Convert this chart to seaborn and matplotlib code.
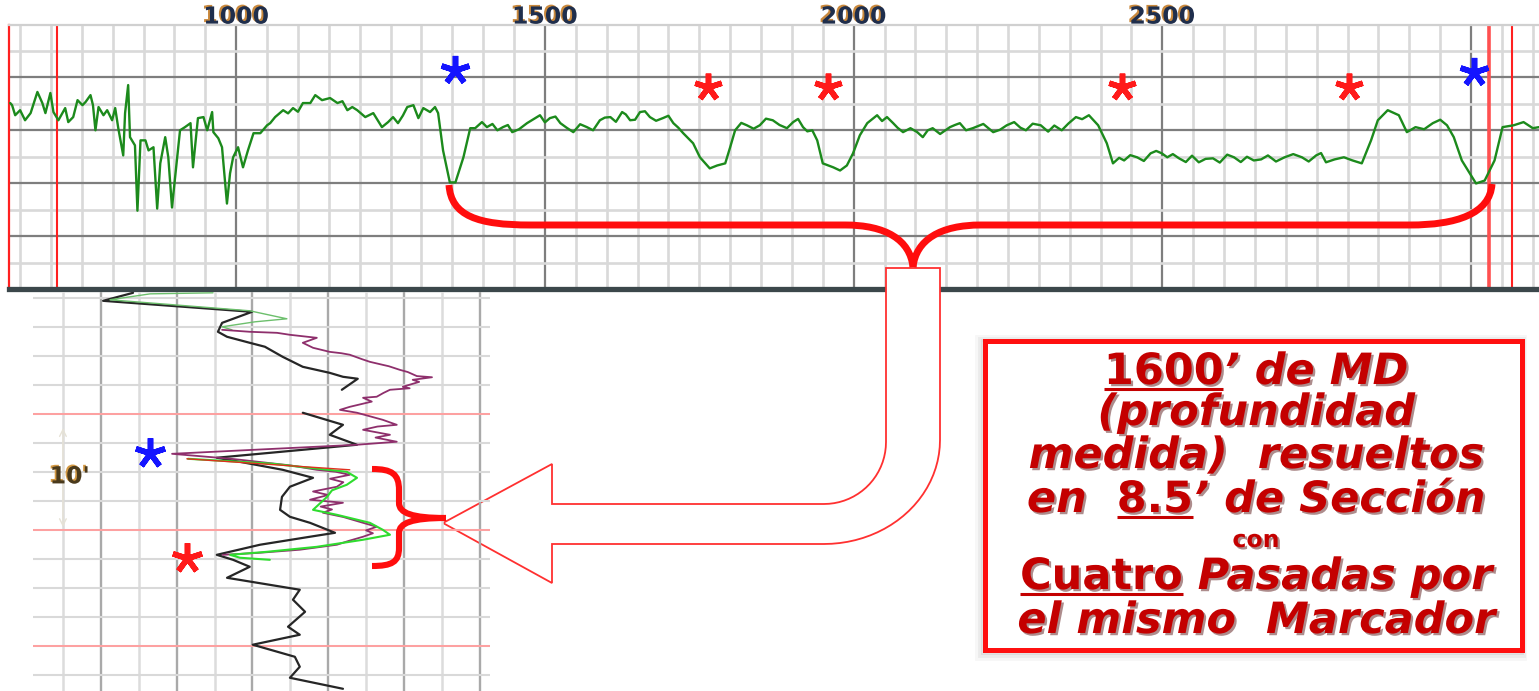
import numpy as np
import matplotlib
matplotlib.use("Agg")
import matplotlib.pyplot as plt
import matplotlib.patheffects as pe
from matplotlib.path import Path
from matplotlib.patches import PathPatch, Rectangle
import seaborn as sns

# ---------------- Gamma-ray log along the well (measured depth, ft) ----------------
GR_DEPTH = [634, 637, 642, 650, 658, 667, 678, 686, 691, 699, 704, 712, 723, 728, 736, 743,
            751, 756, 764, 768, 772, 777, 785, 791, 799, 804, 809, 817, 820, 825, 828, 836,
            840, 845, 853, 858, 866, 872, 877, 885, 890, 896, 901, 909, 917, 926, 930, 938,
            947, 953, 961, 963, 971, 977, 985, 990, 995, 1003, 1011, 1019, 1028, 1039, 1050,
            1055, 1063, 1076, 1084, 1092, 1100, 1108, 1120, 1128, 1139, 1152, 1164, 1172, 1180,
            1188, 1196, 1209, 1222, 1236, 1246, 1254, 1262, 1270, 1277, 1287, 1295, 1303, 1314,
            1322, 1327, 1335, 1346, 1355, 1368, 1379, 1387, 1398, 1406, 1415, 1423, 1432, 1440,
            1447, 1458, 1471, 1480, 1492, 1500, 1508, 1517, 1525, 1535, 1546, 1557, 1568, 1578,
            1589, 1597, 1606, 1615, 1625, 1631, 1638, 1646, 1654, 1662, 1670, 1680, 1691, 1700,
            1708, 1716, 1724, 1740, 1751, 1767, 1779, 1792, 1800, 1808, 1818, 1827, 1838, 1848,
            1858, 1869, 1880, 1892, 1902, 1910, 1918, 1925, 1933, 1941, 1950, 1967, 1978, 1989,
            1999, 2010, 2022, 2038, 2046, 2054, 2064, 2071, 2080, 2092, 2103, 2112, 2120, 2128,
            2140, 2156, 2164, 2172, 2182, 2193, 2210, 2226, 2237, 2248, 2260, 2270, 2279, 2290,
            2303, 2315, 2325, 2337, 2348, 2360, 2370, 2381, 2396, 2410, 2420, 2430, 2438, 2448,
            2459, 2470, 2481, 2490, 2499, 2508, 2517, 2527, 2538, 2548, 2559, 2570, 2582, 2593,
            2605, 2616, 2627, 2637, 2648, 2660, 2671, 2684, 2698, 2712, 2726, 2737, 2749, 2757,
            2765, 2779, 2794, 2808, 2823, 2838, 2849, 2865, 2883, 2896, 2910, 2924, 2938, 2950,
            2961, 2972, 2985, 3008, 3022, 3038, 3051, 3069, 3085, 3100, 3110]
GR_API = [70.3, 69.5, 65.7, 67.6, 63.8, 66.5, 74.5, 70.3, 66.5, 74.1, 66.9, 63.8, 68.4, 63.1, 65.0, 71.4,
          69.5, 70.7, 73.3, 69.5, 60.0, 68.8, 65.7, 67.6, 63.8, 68.4, 60.8, 50.5, 66.5, 77.1, 57.4, 54.3,
          29.6, 56.2, 56.2, 52.4, 53.6, 30.4, 47.5, 57.4, 49.8, 30.8, 42.2, 60.0, 61.2, 62.7, 46.0, 64.6,
          65.0, 60.0, 66.9, 59.3, 57.0, 53.6, 32.3, 43.7, 49.8, 53.6, 46.0, 52.4, 58.9, 58.9, 61.9,
          62.7, 65.0, 67.6, 66.4, 68.4, 67.0, 70.3, 70.3, 73.3, 71.4, 72.2, 70.3, 71.0, 67.6,
          68.8, 67.6, 65.0, 66.5, 61.2, 63.1, 65.0, 62.7, 65.6, 68.8, 69.5, 64.6, 68.4, 66.9,
          68.8, 66.5, 52.4, 40.3, 40.3, 49.8, 60.8, 60.8, 63.1, 61.2, 62.4, 60.0, 61.2, 62.0,
          59.3, 60.4, 62.7, 64.0, 65.7, 63.0, 64.6, 65.2, 62.7, 61.0, 59.3, 62.3, 61.2, 60.0,
          63.8, 64.8, 65.0, 63.2, 66.9, 66.0, 63.8, 64.0, 66.9, 67.2, 65.0, 63.6, 64.6, 65.5,
          62.7, 61.0, 58.9, 55.1, 49.8, 45.6, 46.7, 47.5, 53.6, 60.0, 62.8, 61.9, 60.6, 61.9,
          64.4, 63.8, 62.0, 60.8, 63.1, 64.3, 61.2, 59.6, 60.0, 56.2, 47.5, 46.0, 44.8, 46.7,
          51.3, 58.1, 62.7, 65.7, 63.5, 65.0, 62.7, 61.0, 59.3, 60.8, 59.3, 57.4, 60.0, 60.8,
          58.6, 61.2, 62.0, 62.7, 60.0, 60.8, 62.4, 59.3, 60.2, 61.9, 63.1, 61.0, 60.0, 62.5,
          61.9, 59.5, 61.8, 60.0, 62.6, 65.0, 64.2, 65.7, 61.9, 55.1, 47.5, 49.6, 48.6, 50.6,
          49.8, 48.4, 51.3, 52.2, 51.3, 49.8, 51.0, 49.4, 48.0, 50.4, 47.9, 49.2, 49.4, 47.8,
          50.8, 49.8, 48.0, 50.0, 48.6, 49.0, 50.5, 48.2, 49.8, 51.0, 49.8, 48.2, 50.5, 51.4,
          47.9, 49.0, 49.8, 48.6, 47.5, 56.2, 63.8, 67.6, 65.7, 59.3, 61.2, 60.4, 62.7, 64.0,
          61.9, 57.4, 48.6, 39.9, 41.0, 48.6, 61.2, 61.9, 63.1, 60.8, 61.2]

# marker passes picked on the log
BLUE_STAR_DEPTH = [1355, 3005]
BLUE_STAR_API = [82.8, 82.1]
RED_STAR_DEPTH = [1764, 1958, 2435, 2802]
RED_STAR_API = [76.4, 76.4, 76.4, 76.4]

DEPTH_TICKS = [1000, 1500, 2000, 2500, 3000]
DEPTH_LABELS = ["1000", "1500", "2000", "2500", ""]
RED_MARKS_MD = [710, 3029, 3066]

# ---------------- Stratigraphic section (relative TVD, ft) ----------------
REF_A_VAL = [18.5, 10.6, 49.9, 42.0, 40.9, 43.3, 49.3, 53.3, 58.0, 63.3, 70.4, 73.9, 77.8, 73.6]
REF_A_TVD = [-0.43, 0.26, 1.21, 2.16, 2.93, 3.36, 3.88, 4.22, 5.09, 5.95, 6.47, 6.81, 6.98, 7.93]
REF_B_VAL = [63.3, 73.9, 70.4, 77.6, 40.6, 46.7, 58.0, 66.0, 59.9, 57.8, 57.3, 59.9, 65.2, 71.8,
             65.2, 52.0, 40.6, 44.9, 49.3, 43.3, 62.5, 60.7, 63.9, 59.4, 62.5, 50.1, 61.2, 62.5,
             59.9, 73.9]
REF_B_TVD = [9.91, 10.95, 11.81, 12.67, 13.79, 14.14, 14.83, 15.52, 16.29, 17.16, 18.28, 18.88,
             19.40, 20.26, 20.60, 21.29, 22.16, 22.59, 23.19, 24.14, 25.17, 26.03, 27.07, 28.36,
             29.05, 29.91, 30.95, 31.81, 32.76, 33.71]

PASS1_VAL = [39.6, 23.0, 12.4, 49.3, 59.1, 50.7, 42.0, 44.6]
PASS1_TVD = [-0.43, -0.34, 0.17, 1.12, 1.81, 2.07, 2.50, 2.76]

PASS2_VAL = [42.0, 49.3, 56.5, 59.9, 67.0, 63.3, 66.0, 70.4, 73.5, 75.7, 79.0, 81.0, 84.4, 86.0,
             88.9, 91.0, 93.4, 97.4, 92.3, 94.0, 89.7, 91.5, 86.3, 84.6, 82.8, 79.2, 81.5, 75.7,
             73.1, 77.6, 84.4, 88.1, 83.0, 79.2, 86.3, 82.5, 88.1, 77.6, 28.8, 45.0, 60.0, 67.0,
             72.0, 75.7, 70.5, 74.0, 72.3, 66.0, 70.0, 65.2, 73.9, 68.0, 71.0, 68.6, 74.0, 79.2,
             82.8, 80.0, 81.8, 79.2, 75.5, 72.3, 62.5, 52.0, 42.2]
PASS2_TVD = [2.76, 2.93, 3.02, 3.19, 3.45, 3.88, 4.31, 4.66, 4.78, 4.91, 5.30, 5.52, 5.78, 5.90,
             6.21, 6.40, 6.75, 6.85, 7.07, 7.25, 7.67, 7.80, 7.93, 8.20, 8.53, 8.62, 8.95, 9.40,
             9.66, 9.91, 10.52, 10.95, 11.10, 11.38, 11.81, 12.05, 12.41, 12.67, 13.45, 13.90,
             14.45, 14.83, 15.00, 15.26, 15.60, 15.90, 16.29, 16.70, 17.00, 17.41, 17.67, 18.00,
             18.25, 18.53, 18.90, 19.40, 19.74, 20.05, 20.30, 20.60, 20.95, 21.29, 21.72, 21.98,
             22.16]

PASS3_VAL = [33.0, 55.0, 74.9, 77.6, 74.9, 71.0, 69.7, 66.0, 72.3, 81.0, 84.4, 86.3, 79.2, 67.0,
             53.8, 44.1, 46.7, 54.6]
PASS3_TVD = [13.88, 14.30, 15.00, 15.52, 16.12, 16.60, 17.16, 18.28, 18.71, 19.40, 20.00, 20.43,
             20.86, 21.47, 21.90, 22.16, 22.41, 22.59]

PASS4_VAL = [32.7, 75.7]
PASS4_TVD = [13.88, 14.83]

SEC_BLUE_STAR = (23.0, 13.36)
SEC_RED_STAR = (32.7, 22.41)

NOTE_LINES = [
    ([("1600", "up", True), ("’ de MD", "it", False)], 31),
    ([("(profundidad", "it", False)], 31),
    ([("medida)  resueltos", "it", False)], 31),
    ([("en  ", "it", False), ("8.5", "up", True), ("’ de Sección", "it", False)], 31),
    ([("con", "up", False)], 17),
    ([("Cuatro", "up", True), (" Pasadas por", "it", False)], 31),
    ([("el mismo  Marcador", "it", False)], 31),
]
NOTE_BASELINES = [384, 425, 468, 512, 547, 589, 633]

# ---------------- figure ----------------
sns.set_theme(style="white")
plt.rcParams["font.family"] = ["DejaVu Sans"]

W, H = 1539, 691
fig = plt.figure(figsize=(W / 100, H / 100), dpi=100)
fig.patch.set_facecolor("white")


def px_rect(x0, y0, x1, y1):
    return [x0 / W, 1 - y1 / H, (x1 - x0) / W, (y1 - y0) / H]


ax_top = fig.add_axes(px_rect(9, 24.5, 1539, 289), zorder=0)
ax_lo = fig.add_axes([0, 0, 1, 1], zorder=1)
ax_bot = fig.add_axes(px_rect(33, 292, 490, 691), zorder=2)
ax_hi = fig.add_axes([0, 0, 1, 1], zorder=3)

for a in (ax_lo, ax_hi):
    a.set_xlim(0, W)
    a.set_ylim(H, 0)
    a.axis("off")
    a.patch.set_alpha(0)

# ---- top track: GR vs MD ----
ax_top.set_xlim(632, 3110)
ax_top.set_ylim(0, 100)
ax_top.set_xticks(DEPTH_TICKS)
ax_top.set_xticklabels(DEPTH_LABELS)
ax_top.set_xticks(np.arange(650, 3110, 50), minor=True)
ax_top.set_yticks([20, 40, 60, 80])
ax_top.set_yticks([10, 30, 50, 70, 90], minor=True)
ax_top.grid(which="major", color="#7e7e7e", lw=1.6)
ax_top.grid(which="minor", color="#d9d9d9", lw=1.9)
ax_top.set_axisbelow(True)
ax_top.tick_params(which="both", length=0, left=False, labelleft=False,
                   bottom=False, labelbottom=False, top=False, labeltop=True, pad=-3)
for lbl in ax_top.get_xticklabels():
    lbl.set_fontsize(17)
    lbl.set_fontweight("bold")
    lbl.set_color("#1f2e4c")
    lbl.set_path_effects([pe.withSimplePatchShadow(offset=(-1.4, 1.1),
                                                   shadow_rgbFace="#c47c28", alpha=0.9)])
ax_top.spines["bottom"].set_color("#3b474b")
ax_top.spines["bottom"].set_linewidth(3.8)
ax_top.spines["left"].set_color("#ff2020")
ax_top.spines["left"].set_linewidth(1.6)
ax_top.spines["top"].set_color("#d0d0d0")
ax_top.spines["top"].set_linewidth(1.6)
ax_top.spines["right"].set_visible(False)

for md, c, w in zip(RED_MARKS_MD, ["#ff2020", "#ff5050", "#ff2020"], [1.5, 2.6, 1.5]):
    ax_top.axvline(md, color=c, lw=w, zorder=2)

sns.lineplot(x=GR_DEPTH, y=GR_API, ax=ax_top, color="#1c8a1c", lw=1.7,
             estimator=None, zorder=3)
ax_top.plot(BLUE_STAR_DEPTH, BLUE_STAR_API, ls="none", marker=(5, 2, 0), ms=21, mew=4,
            color="#1414ff", zorder=4)
ax_top.plot(RED_STAR_DEPTH, RED_STAR_API, ls="none", marker=(5, 2, 0), ms=20, mew=4,
            color="#ff1a1a", zorder=4)
ax_top.set_xlabel("")
ax_top.set_ylabel("")

# ---- bottom track: stratigraphic section ----
ax_bot.patch.set_alpha(0)
ax_bot.set_xlim(-7.9, 112.7)
ax_bot.set_ylim(33.9, -0.5)
ax_bot.set_xticks(np.arange(10, 111, 20))
ax_bot.set_xticks(np.arange(0, 111, 20), minor=True)
ax_bot.set_yticks(np.arange(0, 33, 2.5))
ax_bot.grid(which="major", axis="x", color="#a9a9a9", lw=1.7)
ax_bot.grid(which="minor", axis="x", color="#dcdcdc", lw=1.8)
ax_bot.grid(which="major", axis="y", color="#d9d9d9", lw=1.5)
ax_bot.tick_params(which="both", length=0, labelleft=False, labelbottom=False)
for s in ax_bot.spines.values():
    s.set_visible(False)
for tvd in (10, 20, 30):
    ax_bot.axhline(tvd, color="#ffa0a0", lw=1.4, zorder=1)

sns.lineplot(x=REF_A_VAL, y=REF_A_TVD, orient="y", estimator=None, ax=ax_bot,
             color="#262626", lw=1.6, zorder=3)
sns.lineplot(x=REF_B_VAL, y=REF_B_TVD, orient="y", estimator=None, ax=ax_bot,
             color="#262626", lw=1.6, zorder=3)
sns.lineplot(x=PASS1_VAL, y=PASS1_TVD, orient="y", estimator=None, ax=ax_bot,
             color="#6cbf6c", lw=1.0, zorder=3)
sns.lineplot(x=PASS2_VAL, y=PASS2_TVD, orient="y", estimator=None, ax=ax_bot,
             color="#8e2f6c", lw=1.3, zorder=4)
sns.lineplot(x=PASS3_VAL, y=PASS3_TVD, orient="y", estimator=None, ax=ax_bot,
             color="#2fdc2f", lw=1.5, zorder=5)
sns.lineplot(x=PASS4_VAL, y=PASS4_TVD, orient="y", estimator=None, ax=ax_bot,
             color="#e03020", lw=1.0, zorder=5)
ax_bot.plot([SEC_BLUE_STAR[0]], [SEC_BLUE_STAR[1]], ls="none", marker=(5, 2, 0), ms=22,
            mew=4, color="#1414ff", zorder=6)
ax_bot.plot([SEC_RED_STAR[0]], [SEC_RED_STAR[1]], ls="none", marker=(5, 2, 0), ms=22,
            mew=4, color="#ff1a1a", zorder=6)
ax_bot.set_xlabel("")
ax_bot.set_ylabel("")
ax_bot.annotate("", xy=(0, 11.0), xytext=(0, 20.0),
                arrowprops=dict(arrowstyle="<->", color="#e6e2d6", lw=1.0))
ax_bot.text(1.8, 15.4, "10'", ha="center", va="center", fontsize=17, fontweight="bold",
            color="#4a3a1c",
            path_effects=[pe.withSimplePatchShadow(offset=(-1.2, 1.0),
                                                   shadow_rgbFace="#cf8e30", alpha=0.9)])

# ---- bent hollow arrow from the top brace to the section ----
xl, xr, ytop = 886, 940, 268
t_in = np.linspace(0, np.pi / 2, 20)
inner = np.column_stack([824 + 62 * np.cos(t_in), 442 + 62 * np.sin(t_in)])
t_out = np.linspace(np.pi / 2, 0, 24)
outer = np.column_stack([824 + 116 * np.cos(t_out), 440 + 104 * np.sin(t_out)])
verts = [(xl, ytop)] + [tuple(p) for p in inner] + [
    (552, 504), (552, 464), (443, 523), (552, 583), (552, 544)] + [
    tuple(p) for p in outer] + [(xr, ytop), (xl, ytop)]
ax_lo.add_patch(PathPatch(Path(verts, closed=True), facecolor="white",
                          edgecolor="#ff3030", lw=1.3))

# ---- braces ----
def stroke(a, pts, codes, lw):
    a.add_patch(PathPatch(Path(pts, codes), facecolor="none", edgecolor="#ff0d0d",
                          lw=lw, capstyle="butt", joinstyle="round"))


M, C, L = Path.MOVETO, Path.CURVE4, Path.LINETO
stroke(ax_hi, [(449, 185), (451, 216), (478, 225), (530, 225), (845, 225),
               (886, 225), (910, 240), (913, 267)],
       [M, C, C, C, L, C, C, C], 5.0)
stroke(ax_hi, [(913, 267), (916, 240), (940, 225), (981, 225), (1410, 225),
               (1456, 225), (1490, 214), (1492, 184)],
       [M, C, C, C, L, C, C, C], 5.0)
stroke(ax_hi, [(372, 469), (392, 469), (399, 474), (399, 490), (399, 503),
               (399, 513), (412, 518), (446, 518)],
       [M, C, C, C, L, C, C, C], 4.4)
stroke(ax_hi, [(446, 518), (412, 518), (399, 523), (399, 533), (399, 548),
               (399, 562), (392, 566), (372, 566)],
       [M, C, C, C, L, C, C, C], 4.4)

# ---- note box ----
for k, al in zip([7, 5, 3], [0.06, 0.09, 0.12]):
    ax_hi.add_patch(Rectangle((984.5 - k, 340.5 - k * 0.3), 537 + k * 1.2, 309 + k * 1.3,
                              facecolor="none", edgecolor="#777777", lw=k * 0.7, alpha=al))
ax_hi.add_patch(Rectangle((984.5, 340.5), 537, 309, facecolor="white",
                          edgecolor="#ff1010", lw=3.6))

renderer = fig.canvas.get_renderer()
TEXT_RED = "#c40000"
shadow = [pe.withSimplePatchShadow(offset=(1.6, -1.6), shadow_rgbFace="#4a0000", alpha=0.45)]


def style_kw(style, size):
    return dict(fontsize=size, fontweight="bold",
                fontstyle=("italic" if style == "it" else "normal"),
                color=TEXT_RED, ha="left", va="baseline")


def width_of(s, kw):
    t = ax_hi.text(0, 0, s, **kw)
    w = t.get_window_extent(renderer).width
    t.remove()
    return w


cx = 1256
for (pieces, size), base in zip(NOTE_LINES, NOTE_BASELINES):
    items = []
    for txt, style, under in pieces:
        kw = style_kw(style, size)
        sp = width_of("x x", kw) - width_of("xx", kw)
        core = txt.strip(" ")
        lead = len(txt) - len(txt.lstrip(" "))
        trail = len(txt) - len(txt.rstrip(" "))
        items.append((core, kw, under, lead * sp, width_of(core, kw), trail * sp))
    total = sum(a + b + c for _, _, _, a, b, c in items)
    x = cx - total / 2
    for core, kw, under, lead, w, trail in items:
        x += lead
        ax_hi.text(x, base, core, path_effects=shadow, **kw)
        if under:
            ax_hi.plot([x, x + w], [base + 5, base + 5], color=TEXT_RED, lw=2.2,
                       solid_capstyle="butt", path_effects=shadow)
        x += w + trail

fig.savefig("out.png", dpi=100, facecolor="white")
